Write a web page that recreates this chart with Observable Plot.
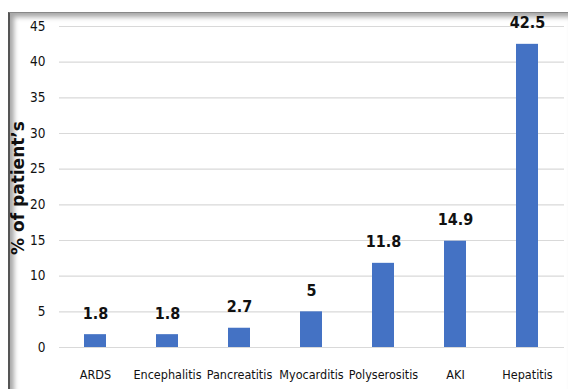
<!DOCTYPE html>
<html><head><meta charset="utf-8">
<script src="https://cdn.jsdelivr.net/npm/d3@7"></script>
<script src="https://cdn.jsdelivr.net/npm/@observablehq/plot@0.6"></script>
<style>
html,body{margin:0;padding:0;background:#fff;}
#wrap{position:relative;width:569px;height:389px;overflow:hidden;}
#frame{position:absolute;left:8px;top:12px;width:558px;height:380px;border-left:2px solid #555;border-top:1px solid #888;box-shadow:inset 4px 4px 5px rgba(0,0,0,0.35);pointer-events:none;}
#chart{position:absolute;left:0;top:0;}
svg text{font-stretch:condensed;}
</style></head>
<body><div id="wrap"><div id="chart"></div><div id="frame"></div></div>
<script>
const categories = ["ARDS","Encephalitis","Pancreatitis","Myocarditis","Polyserositis","AKI","Hepatitis"];
const values = [1.8,1.8,2.7,5,11.8,14.9,42.5];
const labels = ["1.8","1.8","2.7","5","11.8","14.9","42.5"];
const yTicks = [0,5,10,15,20,25,30,35,40,45];
const data = categories.map((c,i)=>({cat:c, v:values[i], lab:labels[i]}));
const font = "'DejaVu Sans Condensed','Liberation Sans Narrow',sans-serif";
const plot = Plot.plot({
  width:569, height:389,
  marginTop:26, marginBottom:42, marginLeft:59, marginRight:5,
  style:{fontFamily:font, background:"transparent"},
  x:{domain:categories, paddingInner:0.69, paddingOuter:0.345, label:null},
  y:{domain:[0,45], label:null},
  marks:[
    Plot.gridY(yTicks,{stroke:"#d9d9d9", strokeOpacity:1, strokeWidth:1.2}),
    Plot.barY(data,{x:"cat", y:"v", fill:"#4472C4"}),
    Plot.text(data,{x:"cat", y:"v", text:"lab", dy:-21, fontSize:16, fontWeight:"bold", fill:"#111"}),
    Plot.axisY({ticks:yTicks, tickSize:0, tickPadding:14, fontSize:13.5, fill:"#111", label:null}),
    Plot.axisX({tickSize:0, tickPadding:23, fontSize:12.5, fill:"#111", label:null})
  ]
});
document.getElementById("chart").appendChild(plot);
const svg = d3.select(plot);
svg.append("text").attr("transform","translate(24,188) rotate(-90)")
  .attr("text-anchor","middle").attr("font-family","'DejaVu Sans',sans-serif")
  .style("font-stretch","normal")
  .attr("font-weight","bold").attr("font-size",17).attr("fill","#111")
  .text("% of patient’s");
</script></body></html>
